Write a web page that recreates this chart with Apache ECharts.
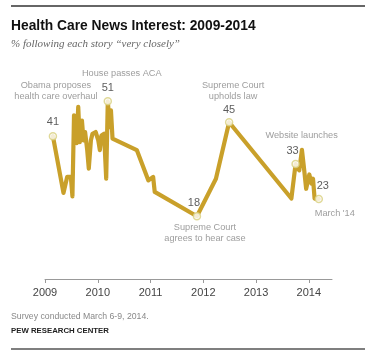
<!DOCTYPE html>
<html><head><meta charset="utf-8">
<script src="https://cdn.jsdelivr.net/npm/echarts@6/dist/echarts.min.js"></script>
<style>html,body{margin:0;padding:0;background:#fff}#c{width:370px;height:355px}</style>
</head><body><div id="c"></div>
<script>
// ---- data ----
const dates = [2009.15,2009.35,2009.42,2009.49,2009.52,2009.55,2009.60,2009.63,2009.66,2009.70,2009.73,2009.76,2009.80,2009.83,2009.87,2009.90,2009.96,2010.01,2010.04,2010.07,2010.12,2010.16,2010.19,2010.23,2010.25,2010.28,2010.74,2010.96,2011.05,2011.08,2011.88,2012.24,2012.49,2013.67,2013.75,2013.82,2013.87,2013.91,2013.95,2014.01,2014.05,2014.08,2014.11,2014.19];
const values = [41,24.7,29.3,29.3,23.7,47,39,49.4,39.3,45.5,39.8,42.2,37,31.7,39.8,41.7,42.2,39.8,37,41.2,41.7,28.8,51,43.6,48.4,40.3,37,28.3,29.3,25,18,28.8,45,23.1,33,31.2,37.1,31.7,25.9,30,27.4,28.8,23.1,23];
const yearTicks = [2009,2010,2011,2012,2013,2014];
const highlightDates = [2009.15,2010.19,2011.88,2012.49,2013.75,2014.19];
const highlightValues = [41,51,18,45,33,23];
const captions = ["Obama proposes\nhealth care overhaul","House passes ACA","Supreme Court\nagrees to hear case","Supreme Court\nupholds law","Website launches","March '14"];
const titleText = "Health Care News Interest: 2009-2014";
const subtitleText = "% following each story \u201cvery closely\u201d";
const noteText = "Survey conducted March 6-9, 2014.";
const sourceText = "PEW RESEARCH CENTER";

// ---- label placement (style) ----
const numOffsets = [[0,-14],[0,-13],[-3,-13],[0,-12],[-3,-13],[4,-13]];
const capOffsets = [[3,-45],[14,-28],[8,17],[4,-31],[6,-29],[16,15]];

const gold = '#c9a02a';
const chart = echarts.init(document.getElementById('c'), null, {renderer:'canvas'});
const lineData = dates.map((d,i)=>[d, values[i]]);
const hiData = highlightDates.map((d,i)=>({value:[d, highlightValues[i]], label:{offset:numOffsets[i]}}));
const capData = highlightDates.map((d,i)=>({value:[d, highlightValues[i]], label:{offset:capOffsets[i], formatter:captions[i]}}));

chart.setOption({
  animation:false,
  title:{text:titleText, subtext:subtitleText, left:6, top:14, itemGap:6,
    textStyle:{fontFamily:'Liberation Sans', fontWeight:'bold', fontSize:13.8, color:'#111'},
    subtextStyle:{fontFamily:'Liberation Serif', fontStyle:'italic', fontSize:11, color:'#666'}},
  grid:{left:45, right:38, top:70, bottom:76},
  xAxis:{type:'value', min:2009, max:2014.44, interval:1,
    splitLine:{show:false},
    axisLine:{lineStyle:{color:'#999', width:1}},
    axisTick:{show:true, length:4, inside:false, lineStyle:{color:'#999'}},
    axisLabel:{showMaxLabel:false, margin:8, color:'#444', fontFamily:'Liberation Sans', fontSize:11,
      formatter:v=> yearTicks.indexOf(Math.round(v))>=0 && Math.abs(v-Math.round(v))<1e-6 ? String(Math.round(v)) : ''}},
  yAxis:{type:'value', min:0, max:60, show:false},
  series:[
    {type:'line', data:lineData, symbol:'none', lineStyle:{color:gold, width:4.2, join:'round', cap:'round'}, z:2},
    {type:'scatter', data:hiData, symbol:'circle', symbolSize:7,
      itemStyle:{color:'#fff', borderColor:'#d8cf7e', borderWidth:1.5}, z:3,
      label:{show:true, position:'inside', formatter:p=>String(p.value[1]), color:'#333', fontFamily:'Liberation Sans', fontSize:11}},
    {type:'scatter', data:capData, symbolSize:0, z:4, silent:true,
      label:{show:true, position:'inside', color:'#858585', fontFamily:'Liberation Sans', fontSize:9.2, lineHeight:11, align:'center', verticalAlign:'middle'}}
  ],
  graphic:[
    {type:'line', shape:{x1:11,y1:6,x2:365,y2:6}, style:{stroke:'#333', lineWidth:1.5}},
    {type:'line', shape:{x1:11,y1:349,x2:365,y2:349}, style:{stroke:'#555', lineWidth:1.5}},
    {type:'text', left:11, top:312, style:{text:noteText, fill:'#888', font:'8.7px "Liberation Sans"'}},
    {type:'text', left:11, top:327, style:{text:sourceText, fill:'#222', font:'bold 7.8px "Liberation Sans"'}}
  ]
});
</script></body></html>
